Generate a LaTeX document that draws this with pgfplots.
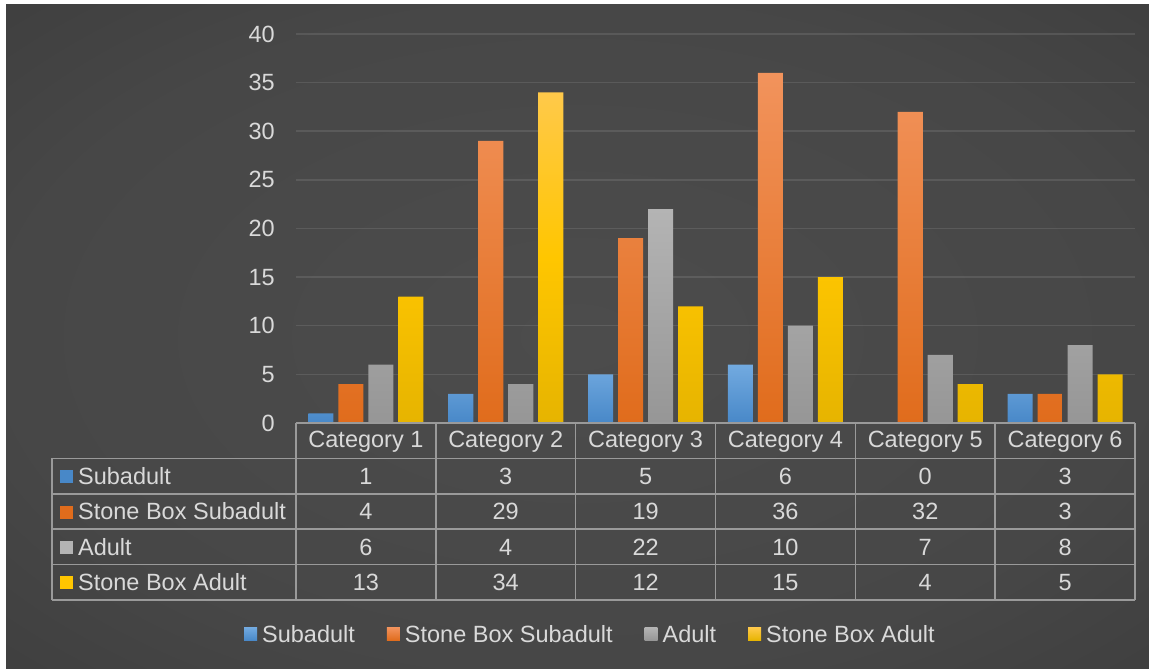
\documentclass[border=0pt]{standalone}
\usepackage{pgfplots}
\pgfplotsset{compat=1.18}
\usepackage{pgfplotstable}
\usepackage{fontspec}
\setmainfont{Liberation Sans}
\newcommand{\fs}{\fontsize{23.5pt}{28pt}\selectfont}
\definecolor{txt}{HTML}{D9D9D9}
\definecolor{bluet}{HTML}{72AAE0}
\definecolor{blueb}{HTML}{4888C8}
\definecolor{oranget}{HTML}{F2935C}
\definecolor{orangeb}{HTML}{E06C1C}
\definecolor{grayt}{HTML}{B4B4B4}
\definecolor{grayb}{HTML}{969696}
\definecolor{yelt}{HTML}{FFC94A}
\definecolor{yelm}{HTML}{FFC600}
\definecolor{yelb}{HTML}{E6B400}
\definecolor{tline}{HTML}{9A9A9A}
\definecolor{bga}{HTML}{4C4C4C}
\definecolor{bgb}{HTML}{474747}
\definecolor{bgc}{HTML}{353535}
\definecolor{bgd}{HTML}{252525}
\pgfdeclareradialshading{bgshade}{\pgfpoint{0bp}{0bp}}{color(0bp)=(bga);color(25bp)=(bgb);color(50bp)=(bgc);color(72bp)=(bgd)}

\pgfplotstableread{
x sub sbs adult sba
0 1 4 6 13
1 3 29 4 34
2 5 19 22 12
3 6 36 10 15
4 0 32 7 4
5 3 3 8 5
}\datatable

\begin{document}
\begin{tikzpicture}[font=\fs]
\fill[white] (0pt,0pt) rectangle (1149pt,669pt);
\shade[shading=bgshade] (6pt,0pt) rectangle (1149pt,664pt);
\begin{axis}[
  at={(296pt,246pt)}, anchor=south west,
  scale only axis, width=839pt, height=389pt,
  xmin=-0.5, xmax=5.5, ymin=0, ymax=40,
  clip=false,
  axis line style={draw=none},
  major tick length=0pt,
  ytick={0,5,...,40},
  xtick={0,1,2,3,4,5},
  xticklabels={Category 1,Category 2,Category 3,Category 4,Category 5,Category 6},
  ymajorgrids,
  major grid style={line width=1.5pt, white, opacity=0.1},
  tick label style={font=\fs, text=txt},
  yticklabel style={inner sep=0pt, xshift=-21pt},
  xticklabel style={anchor=base, inner sep=0pt, yshift=-25pt},
  /pgf/number format/assume math mode=true,
  legend columns=4,
  legend style={at={(0.3498,-0.5424)}, anchor=center, draw=none, fill=none,
    text=txt, font=\fs, column sep=0pt, inner sep=0pt,
    nodes={inner sep=0pt, text depth=0pt},
    /tikz/every odd column/.append style={column sep=5pt},
    /tikz/every even column/.append style={column sep=32pt}},
  every node near coord/.append style={anchor=base, inner sep=0pt, yshift=-8.2pt, font=\fs, text=txt},
]
\addplot[ybar, bar width=0.179, bar shift=-0.3218, draw=none, top color=bluet, bottom color=blueb,
  y filter/.expression={y==0 ? nan : y},
  legend image code/.code={\fill[top color=bluet,bottom color=blueb] (0pt,-6.5pt) rectangle (13pt,6.5pt);}]
  table[x=x,y=sub]{\datatable};
\addlegendentry{Subadult}
\addplot[ybar, bar width=0.179, bar shift=-0.1073, draw=none, top color=oranget, bottom color=orangeb,
  legend image code/.code={\fill[top color=oranget,bottom color=orangeb] (0pt,-6.5pt) rectangle (13pt,6.5pt);}]
  table[x=x,y=sbs]{\datatable};
\addlegendentry{Stone Box Subadult}
\addplot[ybar, bar width=0.179, bar shift=0.1073, draw=none, top color=grayt, bottom color=grayb,
  legend image code/.code={\fill[top color=grayt,bottom color=grayb] (0pt,-6.5pt) rectangle (13pt,6.5pt);}]
  table[x=x,y=adult]{\datatable};
\addlegendentry{Adult}
\addplot[ybar, bar width=0.179, bar shift=0.3218, draw=none, top color=yelt, bottom color=yelb, middle color=yelm,
  legend image code/.code={\fill[top color=yelt,bottom color=yelb] (0pt,-6.5pt) rectangle (13pt,6.5pt);}]
  table[x=x,y=sba]{\datatable};
\addlegendentry{Stone Box Adult}

% data table values
\addplot[forget plot, draw=none, mark=none, nodes near coords, point meta=explicit symbolic]
  table[x=x, y expr=-5.46, meta=sub]{\datatable};
\addplot[forget plot, draw=none, mark=none, nodes near coords, point meta=explicit symbolic]
  table[x=x, y expr=-9.10, meta=sbs]{\datatable};
\addplot[forget plot, draw=none, mark=none, nodes near coords, point meta=explicit symbolic]
  table[x=x, y expr=-12.74, meta=adult]{\datatable};
\addplot[forget plot, draw=none, mark=none, nodes near coords, point meta=explicit symbolic]
  table[x=x, y expr=-16.38, meta=sba]{\datatable};

% table grid
\draw[tline, line width=1.5pt]
  (axis cs:-0.5,0) -- (axis cs:5.5,0)
  (axis cs:-2.245,-3.64) -- (axis cs:5.5,-3.64)
  (axis cs:-2.245,-7.28) -- (axis cs:5.5,-7.28)
  (axis cs:-2.245,-10.92) -- (axis cs:5.5,-10.92)
  (axis cs:-2.245,-14.56) -- (axis cs:5.5,-14.56)
  (axis cs:-2.245,-18.2) -- (axis cs:5.5,-18.2)
  (axis cs:-2.245,-3.64) -- (axis cs:-2.245,-18.2)
  (axis cs:-0.5,0) -- (axis cs:-0.5,-18.2)
  (axis cs:0.5,0) -- (axis cs:0.5,-18.2)
  (axis cs:1.5,0) -- (axis cs:1.5,-18.2)
  (axis cs:2.5,0) -- (axis cs:2.5,-18.2)
  (axis cs:3.5,0) -- (axis cs:3.5,-18.2)
  (axis cs:4.5,0) -- (axis cs:4.5,-18.2)
  (axis cs:5.5,0) -- (axis cs:5.5,-18.2);

% row labels
\node[anchor=base west, inner sep=0pt, text=txt, yshift=-8.2pt] at (axis cs:-2.188,-5.46)
  {\textcolor{blueb}{\rule[1pt]{13pt}{13pt}}\hspace{5pt}Subadult};
\node[anchor=base west, inner sep=0pt, text=txt, yshift=-8.2pt] at (axis cs:-2.188,-9.10)
  {\textcolor{orangeb}{\rule[1pt]{13pt}{13pt}}\hspace{5pt}Stone Box Subadult};
\node[anchor=base west, inner sep=0pt, text=txt, yshift=-8.2pt] at (axis cs:-2.188,-12.74)
  {\textcolor{grayt}{\rule[1pt]{13pt}{13pt}}\hspace{5pt}Adult};
\node[anchor=base west, inner sep=0pt, text=txt, yshift=-8.2pt] at (axis cs:-2.188,-16.38)
  {\textcolor{yelm}{\rule[1pt]{13pt}{13pt}}\hspace{5pt}Stone Box Adult};
\end{axis}
\end{tikzpicture}
\end{document}
